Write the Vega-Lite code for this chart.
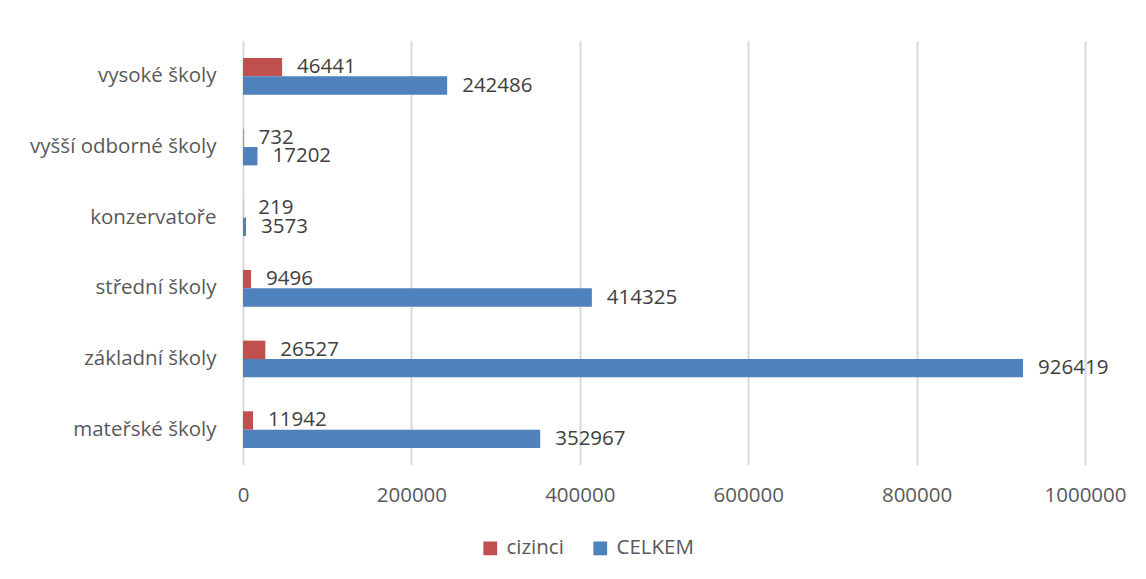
{
  "$schema": "https://vega.github.io/schema/vega-lite/v6.json",
  "width": 842,
  "height": 424,
  "autosize": {"type": "none"},
  "padding": {"left": 243, "top": 41, "right": 61, "bottom": 114},
  "background": "white",
  "config": {"view": {"stroke": null}, "font": "Open Sans"},
  "data": {
    "values": [
      {"typ": "vysoké školy", "serie": "cizinci", "pocet": 46441},
      {"typ": "vysoké školy", "serie": "CELKEM", "pocet": 242486},
      {"typ": "vyšší odborné školy", "serie": "cizinci", "pocet": 732},
      {"typ": "vyšší odborné školy", "serie": "CELKEM", "pocet": 17202},
      {"typ": "konzervatoře", "serie": "cizinci", "pocet": 219},
      {"typ": "konzervatoře", "serie": "CELKEM", "pocet": 3573},
      {"typ": "střední školy", "serie": "cizinci", "pocet": 9496},
      {"typ": "střední školy", "serie": "CELKEM", "pocet": 414325},
      {"typ": "základní školy", "serie": "cizinci", "pocet": 26527},
      {"typ": "základní školy", "serie": "CELKEM", "pocet": 926419},
      {"typ": "mateřské školy", "serie": "cizinci", "pocet": 11942},
      {"typ": "mateřské školy", "serie": "CELKEM", "pocet": 352967}
    ]
  },
  "encoding": {
    "y": {
      "field": "typ",
      "type": "nominal",
      "sort": ["vysoké školy", "vyšší odborné školy", "konzervatoře", "střední školy", "základní školy", "mateřské školy"],
      "scale": {"paddingInner": 0.48, "paddingOuter": 0.24},
      "axis": {
        "title": null,
        "ticks": false,
        "domain": false,
        "grid": false,
        "labelFontSize": 20.5,
        "labelColor": "#595959",
        "labelPadding": 27,
        "labelLimit": 400
      }
    },
    "yOffset": {"field": "serie", "type": "nominal", "sort": ["cizinci", "CELKEM"]},
    "x": {
      "field": "pocet",
      "type": "quantitative",
      "scale": {"domain": [0, 1000000], "nice": false},
      "axis": {
        "title": null,
        "values": [0, 200000, 400000, 600000, 800000, 1000000],
        "format": "d",
        "ticks": false,
        "domain": false,
        "grid": true,
        "gridColor": "#D9D9D9",
        "gridWidth": 2,
        "labelFontSize": 20.5,
        "labelColor": "#595959",
        "labelPadding": 20,
        "labelFlush": false
      }
    }
  },
  "layer": [
    {
      "mark": {"type": "bar"},
      "encoding": {
        "color": {
          "field": "serie",
          "type": "nominal",
          "scale": {"domain": ["cizinci", "CELKEM"], "range": ["#C0504D", "#4F81BD"]},
          "legend": {
            "title": null,
            "orient": "none",
            "direction": "horizontal",
            "legendX": 237,
            "legendY": 497,
            "symbolType": "square",
            "symbolSize": 190,
            "symbolStrokeWidth": 0,
            "labelFontSize": 20.5,
            "labelColor": "#595959",
            "labelOffset": 6,
            "columnPadding": 26
          }
        }
      }
    },
    {
      "mark": {"type": "text", "align": "left", "baseline": "middle", "dx": 15, "fontSize": 20.5, "color": "#404040"},
      "encoding": {"text": {"field": "pocet", "type": "quantitative", "format": "d"}}
    }
  ]
}
